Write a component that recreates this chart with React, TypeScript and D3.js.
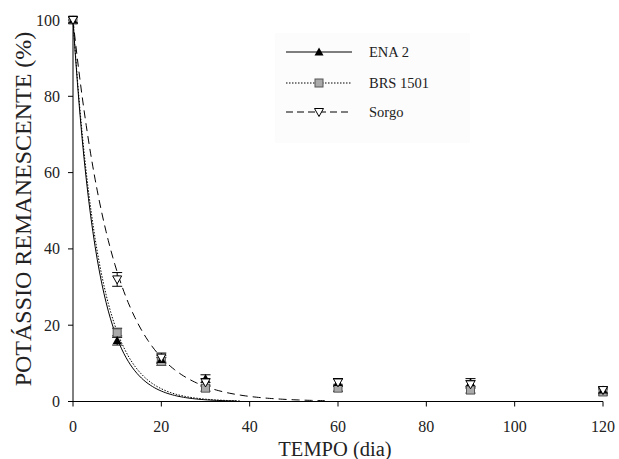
import React from "react";
import * as d3 from "d3";

const days = [0, 10, 20, 30, 60, 90, 120];
const ena2 = [100, 16, 11, 6, 5, 5, 3];
const ena2Err = [0.8, 1.2, 1.0, 1.0, 1.0, 1.0, 0.8];
const brs1501 = [100, 18, 10.5, 3.5, 3.5, 3, 2.5];
const brsErr = [0.8, 1.2, 1.0, 0.8, 0.8, 0.8, 0.8];
const sorgo = [100, 32, 11.5, 5, 5, 4.5, 3];
const sorgoErr = [0.8, 1.8, 1.2, 1.0, 1.0, 1.0, 0.8];
// fitted exponential decay models: 100*exp(-k*t), drawn up to tMax
const fitK = { ena: 0.18, brs: 0.17, sorgo: 0.108 };
const fitEnd = { ena: 37, brs: 38, sorgo: 57 };

const xTicks = [0, 20, 40, 60, 80, 100, 120];
const yTicks = [0, 20, 40, 60, 80, 100];

const W = 619, H = 459;
const x = d3.scaleLinear().domain([0, 120]).range([73, 603]);
const y = d3.scaleLinear().domain([0, 100]).range([401.5, 20]);

const serif = "'Liberation Serif', 'Times New Roman', 'DejaVu Serif', serif";
const tStyle = { fontFamily: serif };

function curve(k: number, tMax: number) {
  const ts = d3.range(0, tMax + 0.01, 0.5);
  return d3.line<number>().x((t) => x(t)).y((t) => y(100 * Math.exp(-k * t)))(ts) || "";
}

function TriUp({ cx, cy }: { cx: number; cy: number }) {
  return <path d={`M${cx},${cy - 4.5}L${cx + 4.5},${cy + 3.5}L${cx - 4.5},${cy + 3.5}Z`} fill="#000" />;
}
function Sq({ cx, cy }: { cx: number; cy: number }) {
  return <rect x={cx - 4} y={cy - 4} width={8} height={8} fill="#aaa" stroke="#555" strokeWidth={1} />;
}
function TriDown({ cx, cy }: { cx: number; cy: number }) {
  return <path d={`M${cx - 4.5},${cy - 3.5}L${cx + 4.5},${cy - 3.5}L${cx},${cy + 4.5}Z`} fill="#fff" stroke="#000" strokeWidth={1} />;
}

function ErrBars({ vals, errs }: { vals: number[]; errs: number[] }) {
  return (
    <g stroke="#000" strokeWidth={1}>
      {days.map((d, i) => {
        const cx = x(d);
        const y1 = y(vals[i] + errs[i]);
        const y2 = y(vals[i] - errs[i]);
        return (
          <g key={i}>
            <line x1={cx} x2={cx} y1={y1} y2={y2} />
            <line x1={cx - 5} x2={cx + 5} y1={y1} y2={y1} />
            <line x1={cx - 5} x2={cx + 5} y1={y2} y2={y2} />
          </g>
        );
      })}
    </g>
  );
}

export default function App() {
  return (
    <svg width={W} height={H} style={{ position: "absolute", left: 0, top: 0, background: "#fff" }}>
      <rect x={0} y={0} width={W} height={H} fill="#fff" />
      {/* legend background */}
      <rect x={275} y={33} width={195} height={110} fill="#fcfcfc" />
      {/* axes */}
      <line x1={73} x2={73} y1={y(100)} y2={y(0)} stroke="#000" strokeWidth={1} />
      <line x1={73} x2={603} y1={y(0)} y2={y(0)} stroke="#000" strokeWidth={1} />
      {yTicks.map((t) => (
        <g key={t}>
          <line x1={68} x2={73} y1={y(t)} y2={y(t)} stroke="#000" />
          <text x={60} y={y(t) + 5.5} textAnchor="end" fontSize={16} fill="#222" style={tStyle}>{t}</text>
        </g>
      ))}
      {xTicks.map((t) => (
        <g key={t}>
          <line x1={x(t)} x2={x(t)} y1={y(0)} y2={y(0) + 5} stroke="#000" />
          <text x={x(t)} y={432} textAnchor="middle" fontSize={16} fill="#222" style={tStyle}>{t}</text>
        </g>
      ))}
      <text x={335} y={456} textAnchor="middle" fontSize={20.5} fill="#222" style={tStyle}>TEMPO (dia)</text>
      <text transform="translate(31,209) rotate(-90)" textAnchor="middle" fontSize={24} fill="#222" style={tStyle}>POTÁSSIO REMANESCENTE (%)</text>

      {/* fitted curves */}
      <path d={curve(fitK.ena, fitEnd.ena)} fill="none" stroke="#000" strokeWidth={1} />
      <path d={curve(fitK.brs, fitEnd.brs)} fill="none" stroke="#000" strokeWidth={1} strokeDasharray="1.5,1.5" />
      <path d={curve(fitK.sorgo, fitEnd.sorgo)} fill="none" stroke="#000" strokeWidth={1} strokeDasharray="8,5" />

      {/* error bars */}
      <ErrBars vals={ena2} errs={ena2Err} />
      <ErrBars vals={brs1501} errs={brsErr} />
      <ErrBars vals={sorgo} errs={sorgoErr} />

      {/* markers */}
      {days.map((d, i) => <Sq key={"b" + i} cx={x(d)} cy={y(brs1501[i])} />)}
      {days.map((d, i) => <TriUp key={"e" + i} cx={x(d)} cy={y(ena2[i])} />)}
      {days.map((d, i) => <TriDown key={"s" + i} cx={x(d)} cy={y(sorgo[i])} />)}

      {/* legend */}
      <g>
        <line x1={286} x2={352} y1={52} y2={52} stroke="#000" />
        <TriUp cx={319} cy={52} />
        <text x={369} y={57} fontSize={14.5} fill="#222" style={tStyle}>ENA 2</text>
        <line x1={286} x2={352} y1={83} y2={83} stroke="#000" strokeDasharray="1.5,1.5" />
        <Sq cx={319} cy={83} />
        <text x={369} y={88} fontSize={14.5} fill="#222" style={tStyle}>BRS 1501</text>
        <line x1={286} x2={352} y1={112} y2={112} stroke="#000" strokeDasharray="7,4" />
        <TriDown cx={319} cy={112} />
        <text x={369} y={117} fontSize={14.5} fill="#222" style={tStyle}>Sorgo</text>
      </g>
    </svg>
  );
}
